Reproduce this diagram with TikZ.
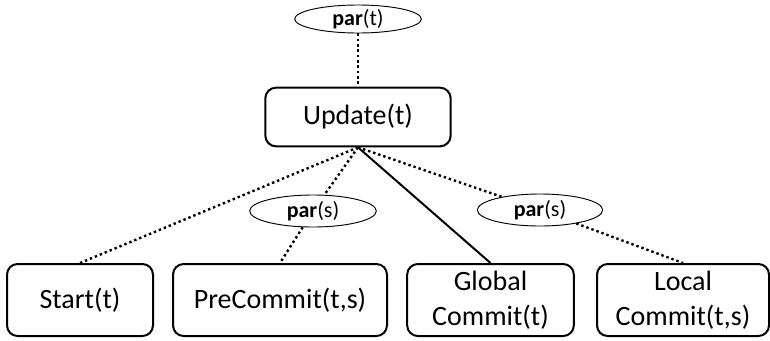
\documentclass[tikz,border=0pt]{standalone}
\usepackage{fontspec}
\setmainfont{Carlito}
\usepackage{tikz}
\usetikzlibrary{shapes.geometric}

\tikzset{
  opbox/.style={draw, line width=1.5pt, rounded corners=8pt, align=center,
    inner sep=2pt, font=\fontsize{21}{26}\selectfont},
  parnode/.style={draw, ellipse, line width=0.7pt, inner sep=0pt,
    font=\fontsize{16.5}{18}\selectfont},
  parlink/.style={line width=1.8pt, dash pattern=on 1.8pt off 2.2pt},
}

\begin{document}
\begin{tikzpicture}[x=0.75pt,y=-0.75pt]
  \useasboundingbox (0,0) rectangle (770,340);

  \node[parnode, minimum width=95pt, minimum height=21pt] (part) at (358,19) {\textbf{par}(t)};
  \node[opbox, minimum width=139pt, minimum height=44pt] (update) at (358,117) {Update(t)};

  \node[opbox, minimum width=109.5pt, minimum height=54pt] (start) at (80,300) {Start(t)};
  \node[opbox, minimum width=160.5pt, minimum height=54pt] (precommit) at (280,300) {PreCommit(t,s)};
  \node[opbox, minimum width=125pt, minimum height=54pt] (global) at (490.5,300) {Global\\Commit(t)};
  \node[opbox, minimum width=129pt, minimum height=54pt] (local) at (683,300) {Local\\Commit(t,s)};

  \node[parnode, minimum width=95pt, minimum height=24pt] (pars1) at (313,211) {\textbf{par}(s)};
  \node[parnode, minimum width=94pt, minimum height=24pt] (pars2) at (540,210) {\textbf{par}(s)};

  \draw[parlink] (part) -- (update);
  \draw[parlink] (update.south) -- (start.north);
  \draw[parlink] (update.south) -- (pars1) -- (precommit.north);
  \draw[line width=1.5pt] (update.south) -- (global.north);
  \draw[parlink] (update.south) -- (pars2) -- (local.north);
\end{tikzpicture}
\end{document}
